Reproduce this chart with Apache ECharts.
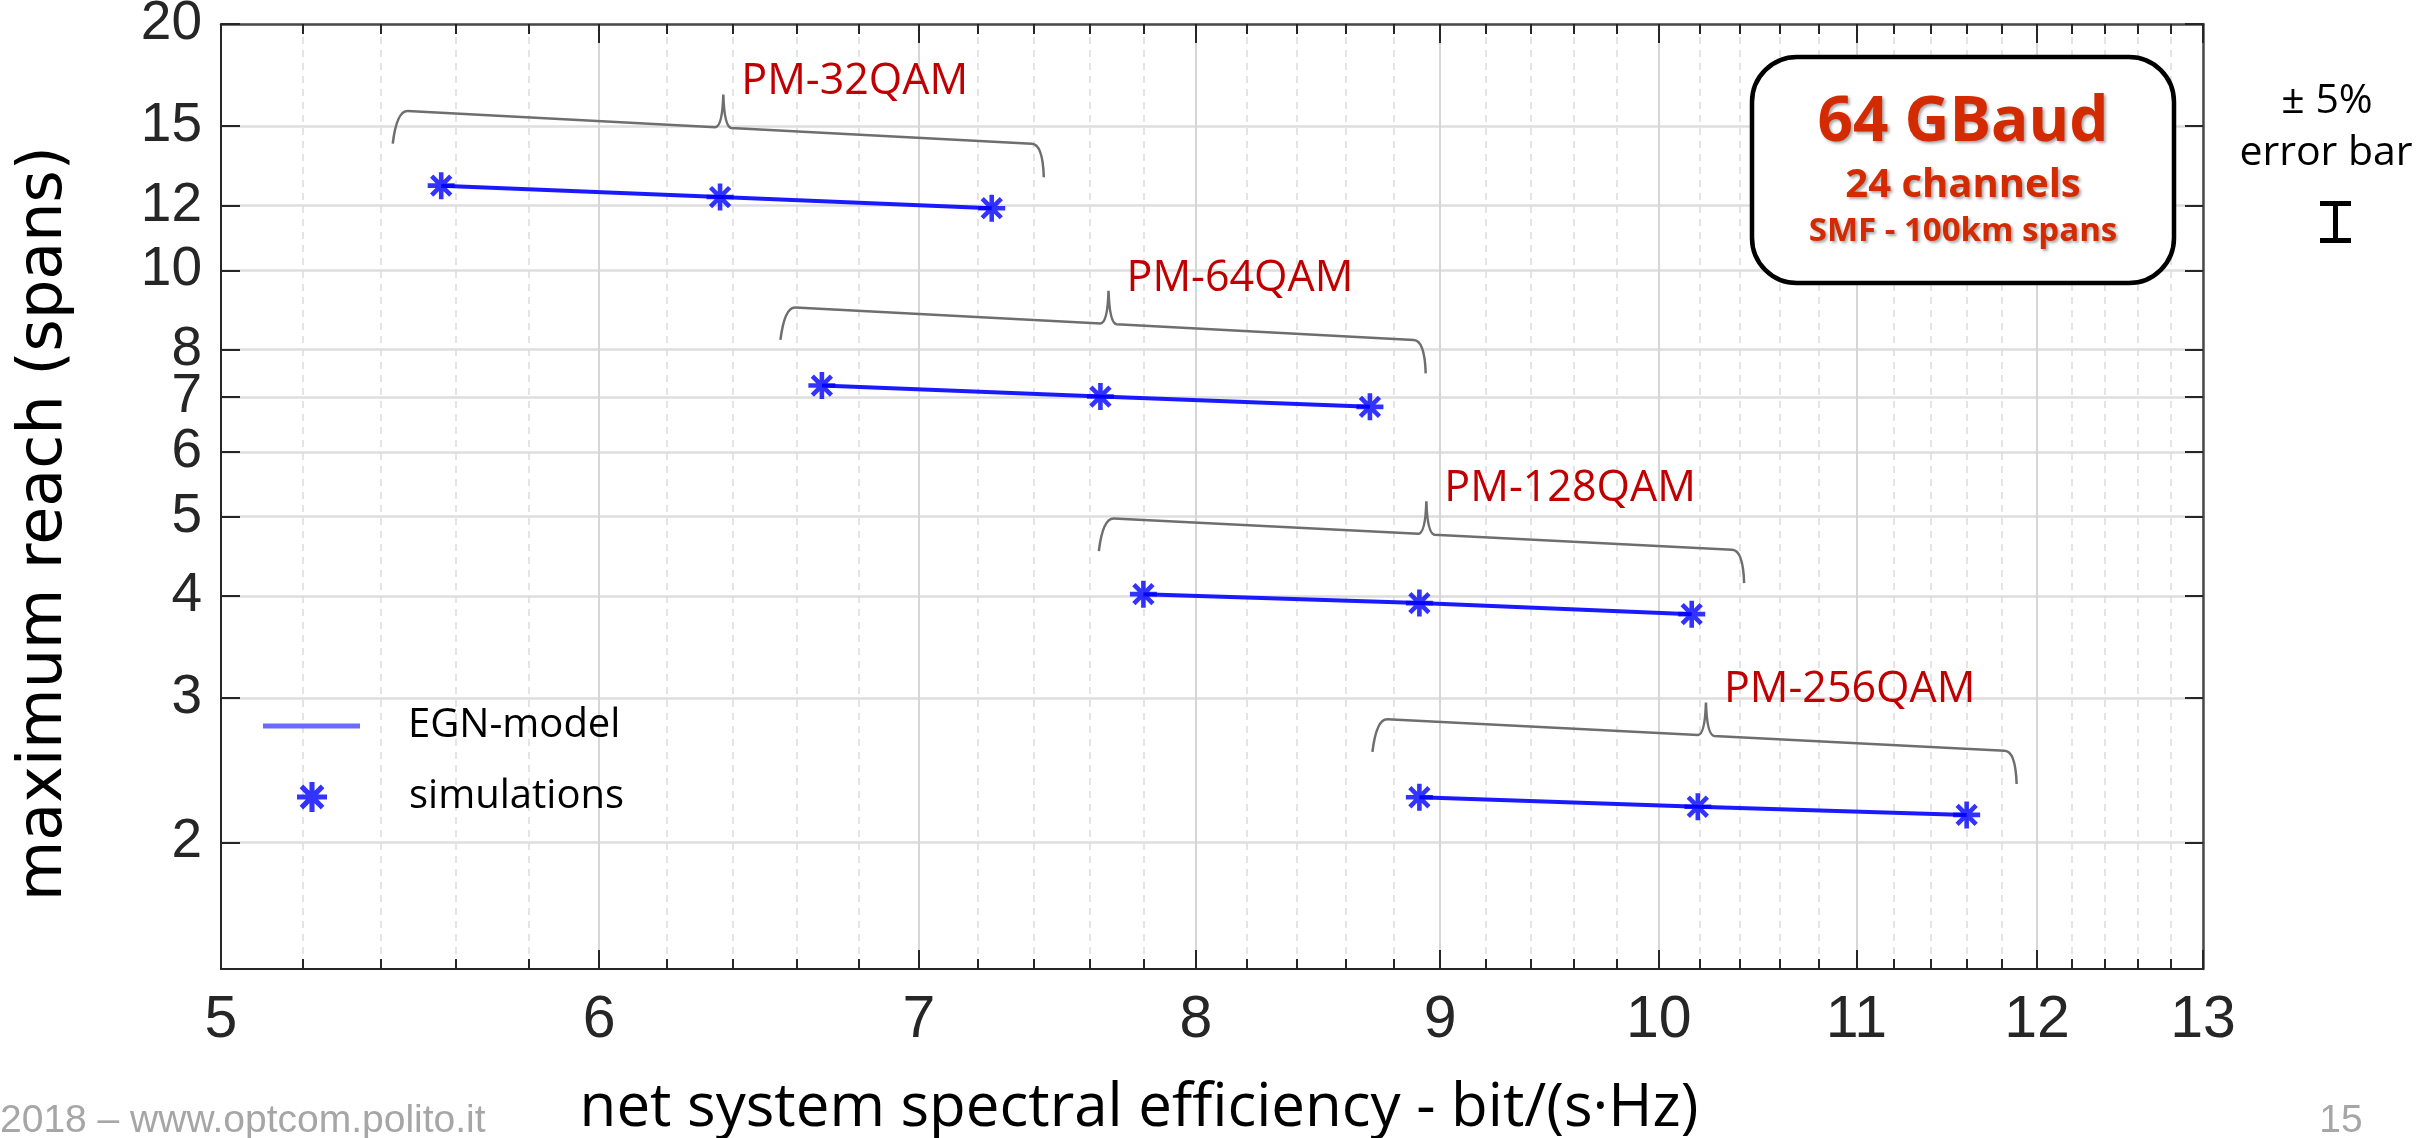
<!DOCTYPE html>
<html>
<head>
<meta charset="utf-8">
<script src="https://cdn.jsdelivr.net/npm/echarts@6/dist/echarts.min.js"></script>
<style>
  html, body, #main { width: 100%; height: 100%; margin: 0; background: #fff; }
</style>
</head>
<body>
<div id="main"></div>
<script>
// modulation formats
var formats = ['PM-32QAM', 'PM-64QAM', 'PM-128QAM', 'PM-256QAM']

// net system spectral efficiency, bit/(s·Hz)
var se32 = [5.56, 6.36, 7.25]
var se64 = [6.68, 7.64, 8.70]
var se128 = [7.80, 8.91, 10.16]
var se256 = [8.91, 10.19, 11.60]

// maximum reach, spans
var reach32 = [12.69, 12.29, 11.91]
var reach64 = [7.23, 7.01, 6.81]
var reach128 = [4.02, 3.92, 3.80]
var reach256 = [2.27, 2.21, 2.16]

// braces drawn over each group (data coords)
var braceLeftX = [5.45, 6.57, 7.66, 8.74]
var braceLeftY = [15.67, 9.02, 4.98, 2.83]
var braceRightX = [7.42, 8.92, 10.40, 11.86]
var braceRightY = [14.26, 8.21, 4.55, 2.585]
var braceTipX = [6.37, 7.67, 8.94, 10.23]

// axis ticks
var xTicks = [5, 6, 7, 8, 9, 10, 11, 12, 13]
var yTicks = [2, 3, 4, 5, 6, 7, 8, 10, 12, 15, 20]
var xMinorTicks = []
for (var v = 52; v < 130; v += 2) { if (v % 10) xMinorTicks.push(v / 10) }

// matlab style '*' marker
var star = 'path://M8.3,0h3.4v20h-3.4z M0,8.3h20v3.4h-20z M4.13,1.73L18.27,15.87L15.87,18.27L1.73,4.13z M15.87,1.73L18.27,4.13L4.13,18.27L1.73,15.87z'

var chart = echarts.init(document.getElementById('main'))

var groups = [[se32, reach32], [se64, reach64], [se128, reach128], [se256, reach256]]

var lineSeries = groups.map(function (g) {
  return {
    name: 'EGN-model', type: 'line', silent: true, z: 3,
    data: g[0].map(function (x, i) { return [x, g[1][i]] }),
    showSymbol: false,
    lineStyle: { color: '#1a1aff', width: 4 },
    itemStyle: { color: '#1a1aff' }
  }
})

var simPoints = []
groups.forEach(function (g) {
  g[0].forEach(function (x, i) { simPoints.push([x, g[1][i]]) })
})

var braceData = formats.map(function (f, i) {
  return [braceLeftX[i], braceLeftY[i], braceRightX[i], braceRightY[i], braceTipX[i]]
})

function renderBrace(params, api) {
  var a = api.coord([api.value(0), api.value(1)])
  var b = api.coord([api.value(2), api.value(3)])
  var tx = api.coord([api.value(4), api.value(1)])[0]
  var s = (b[1] - a[1]) / (b[0] - a[0])
  var ty = a[1] + (tx - a[0]) * s
  var hook = 33, spike = 33
  var d = 'M' + (a[0] - 7) + ',' + (a[1] + hook) +
    ' Q' + (a[0] - 3) + ',' + a[1] + ' ' + (a[0] + 8) + ',' + (a[1] + 8 * s) +
    ' L' + (tx - 8) + ',' + (ty - 8 * s) +
    ' Q' + (tx - 1) + ',' + (ty - 1) + ' ' + tx + ',' + (ty - spike) +
    ' Q' + (tx + 1) + ',' + (ty - 1) + ' ' + (tx + 8) + ',' + (ty + 8 * s) +
    ' L' + (b[0] - 8) + ',' + (b[1] - 8 * s) +
    ' Q' + (b[0] + 3) + ',' + b[1] + ' ' + (b[0] + 4) + ',' + (b[1] + hook)
  return {
    type: 'group',
    children: [
      { type: 'path', shape: { pathData: d }, style: { stroke: '#6e6e6e', lineWidth: 2.5, fill: 'none' } },
      { type: 'text', style: {
        text: formats[params.dataIndex], x: tx + 18, y: ty - spike + 9,
        fill: '#c00000', fontSize: 43, fontFamily: 'Open Sans', align: 'left', verticalAlign: 'bottom'
      } }
    ]
  }
}

var axisDark = { color: '#262626', width: 2 }

function logX(pos, ticks, len, extra) {
  return Object.assign({
    type: 'log', logBase: 10, min: 5, max: 13, position: pos,
    axisLine: { show: false },
    axisTick: { show: true, inside: true, length: len, customValues: ticks, lineStyle: axisDark },
    axisLabel: { show: false },
    splitLine: { show: false },
    minorTick: { show: false }
  }, extra || {})
}

var option = {
  animation: false,
  backgroundColor: '#fff',
  grid: { left: 221, right: 229, top: 24, bottom: 169, outerBoundsMode: 'none' },
  legend: [
    {
      left: 263, top: 706, padding: 0, orient: 'vertical', selectedMode: false,
      itemWidth: 97, itemHeight: 5,
      data: [{ name: 'EGN-model', icon: 'rect', itemStyle: { color: '#6a6aff' } }],
      textStyle: { fontFamily: 'Open Sans', fontSize: 40, color: '#000', padding: [0, 0, 0, 43] }
    },
    {
      left: 297, top: 777, padding: 0, orient: 'vertical', selectedMode: false,
      itemWidth: 32, itemHeight: 30,
      data: [{ name: 'simulations', icon: star }],
      textStyle: { fontFamily: 'Open Sans', fontSize: 40, color: '#000', padding: [0, 0, 0, 76] }
    }
  ],
  xAxis: [
    logX('bottom', xTicks, 19, {
      axisLine: { show: true, lineStyle: axisDark },
      axisLabel: { show: true, customValues: xTicks, margin: 22,
        fontFamily: 'Liberation Sans', fontSize: 59, color: '#262626' },
      splitLine: { show: true, lineStyle: { color: '#d6d6d6', width: 2 } },
      name: 'net system spectral efficiency - bit/(s·Hz)',
      nameLocation: 'middle', nameGap: 110,
      nameTextStyle: { fontFamily: 'Open Sans', fontSize: 60, color: '#000', padding: [0, 146, 0, 0] }
    }),
    logX('bottom', xMinorTicks, 10, {
      splitLine: { show: true, lineStyle: { color: '#dcdcdc', width: 1.5, type: [7, 6] } }
    }),
    logX('top', xTicks, 19, { axisLine: { show: true, lineStyle: { color: '#4a4a4a', width: 2.5 } } }),
    logX('top', xMinorTicks, 10)
  ],
  yAxis: [
    {
      type: 'log', logBase: 10, min: 1.4, max: 20, position: 'left',
      axisLine: { show: true, lineStyle: axisDark },
      axisTick: { show: true, inside: true, length: 19, customValues: yTicks, lineStyle: axisDark },
      axisLabel: { customValues: yTicks, margin: 19,
        fontFamily: 'Liberation Sans', fontSize: 55, color: '#262626' },
      splitLine: { show: true, lineStyle: { color: '#dedede', width: 2.5 } },
      minorTick: { show: false },
      name: 'maximum reach (spans)',
      nameLocation: 'middle', nameGap: 145,
      nameTextStyle: { fontFamily: 'DejaVu Sans', fontSize: 62, color: '#000', padding: [0, 54, 0, 0] }
    },
    {
      type: 'log', logBase: 10, min: 1.4, max: 20, position: 'right',
      axisLine: { show: true, lineStyle: { color: '#4a4a4a', width: 2.5 } },
      axisTick: { show: true, inside: true, length: 18, customValues: yTicks, lineStyle: axisDark },
      axisLabel: { show: false },
      splitLine: { show: false },
      minorTick: { show: false }
    }
  ],
  series: lineSeries.concat([
    {
      name: 'simulations', type: 'scatter', z: 4, silent: true,
      data: simPoints, symbol: star, symbolSize: 27,
      itemStyle: { color: '#0000ff' }
    },
    {
      type: 'custom', silent: true, z: 5, clip: false,
      data: braceData,
      encode: { x: [0, 2, 4], y: [1, 3] },
      renderItem: renderBrace
    }
  ]),
  graphic: [
    { type: 'rect', z: 50, shape: { x: 1752, y: 57, width: 422, height: 226, r: 45 },
      style: { fill: '#fff', stroke: '#000', lineWidth: 4.5 } },
    { type: 'text', z: 51, style: { text: '64 GBaud', x: 1963, y: 123, align: 'center', verticalAlign: 'middle',
      fill: '#d42a00', font: 'bold 62px "Open Sans"',
      textShadowColor: 'rgba(0,0,0,0.35)', textShadowBlur: 3, textShadowOffsetX: 2, textShadowOffsetY: 2 } },
    { type: 'text', z: 51, style: { text: '24 channels', x: 1963, y: 186, align: 'center', verticalAlign: 'middle',
      fill: '#d42a00', font: 'bold 40px "Open Sans"',
      textShadowColor: 'rgba(0,0,0,0.35)', textShadowBlur: 3, textShadowOffsetX: 2, textShadowOffsetY: 2 } },
    { type: 'text', z: 51, style: { text: 'SMF - 100km spans', x: 1963, y: 232, align: 'center', verticalAlign: 'middle',
      fill: '#d42a00', font: 'bold 33px "Open Sans"',
      textShadowColor: 'rgba(0,0,0,0.35)', textShadowBlur: 3, textShadowOffsetX: 2, textShadowOffsetY: 2 } },
    { type: 'text', z: 51, style: { text: '± 5%', x: 2327, y: 101, align: 'center', verticalAlign: 'middle',
      fill: '#000', font: '41px "Open Sans"' } },
    { type: 'text', z: 51, style: { text: 'error bar', x: 2326, y: 153, align: 'center', verticalAlign: 'middle',
      fill: '#000', font: '41px "Open Sans"' } },
    { type: 'rect', z: 51, shape: { x: 2320, y: 201, width: 31, height: 5 }, style: { fill: '#000' } },
    { type: 'rect', z: 51, shape: { x: 2333, y: 201, width: 5, height: 42 }, style: { fill: '#000' } },
    { type: 'rect', z: 51, shape: { x: 2320, y: 238, width: 31, height: 5 }, style: { fill: '#000' } },
    { type: 'text', z: 51, style: { text: '2018 – www.optcom.polito.it', x: 0, y: 1121, align: 'left', verticalAlign: 'middle',
      fill: '#a6a6a6', font: '39px "Liberation Sans"' } },
    { type: 'text', z: 51, style: { text: '15', x: 2341, y: 1121, align: 'center', verticalAlign: 'middle',
      fill: '#a6a6a6', font: '39px "Liberation Sans"' } }
  ]
}

chart.setOption(option)
</script>
</body>
</html>
